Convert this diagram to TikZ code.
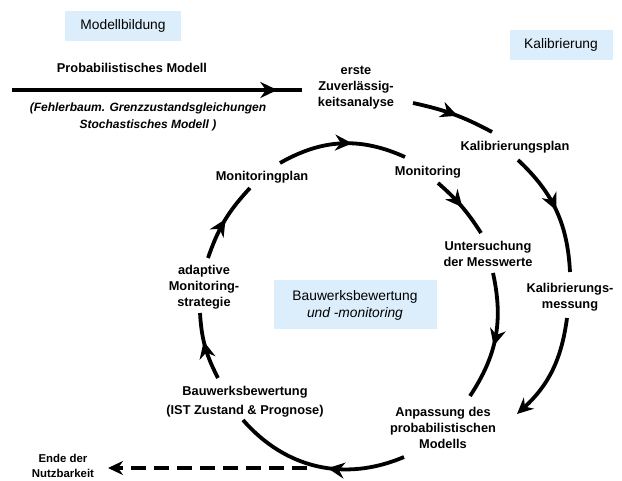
\documentclass[tikz,border=0pt]{standalone}
\usepackage{fontspec}
\setmainfont{Liberation Sans}
\usetikzlibrary{arrows.meta, decorations.markings, positioning}
\definecolor{boxblue}{HTML}{DCEEFB}

\begin{document}
\begin{tikzpicture}[x=1pt, y=1pt,
  every node/.style = {font=\fontsize{12.8}{16}\selectfont\bfseries,
                       align=center, inner sep=1pt},
  areabox/.style    = {fill=boxblue, font=\fontsize{13.8}{17}\selectfont,
                       minimum height=30pt, inner sep=2pt},
  note/.style       = {font=\fontsize{12}{17}\selectfont\bfseries\itshape},
  flow/.style       = {draw=black, line width=3.8pt},
  midtip/.style     = {flow, postaction={decorate},
                       decoration={markings, mark=at position #1 with
                         {\arrow{Stealth[length=17pt, width=16pt]}}}},
  endtip/.style     = {flow, -{Stealth[length=16pt, width=15pt]}},
  exitflow/.style   = {draw=black, line width=3.2pt, dash pattern=on 15pt off 8pt,
                       -{Stealth[length=15pt, width=14pt]}},
]
  \useasboundingbox (0,0) rectangle (622,-481);

  % ------------------------------------------------------------ headings
  \node[areabox, minimum width=116pt] (modbox) at (123,-26) {Modellbildung};
  \node[areabox, minimum width=103pt] (kalbox) at (561,-45) {Kalibrierung};
  \node[areabox, minimum width=163pt, minimum height=49pt] (bwbox) at (355,-305)
        {Bauwerksbewertung\\\textit{und -monitoring}};

  % --------------------------------------------------------- model input
  \node (probmod) at (132,-68) {Probabilistisches Modell};
  \coordinate (modin) at (12,-90);
  \node[note] (fehler) at (148,-116.5)
        {(Fehlerbaum. Grenzzustandsgleichungen\\Stochastisches Modell )};

  % ------------------------------------------------------ calibration loop
  \node (erste)  at (356,-88)  {erste\\Zuverlässig-\\keitsanalyse};
  \node (kplan)  at (515,-147) {Kalibrierungsplan};
  \node (kmess)  at (570,-297) {Kalibrierungs-\\messung};
  \node (anpass) at (443,-428) {Anpassung des\\probabilistischen\\Modells};

  % ------------------------------------------------------- monitoring loop
  \node (mon)    at (428,-172) {Monitoring};
  \node (unters) at (488,-254) {Untersuchung\\der Messwerte};
  \node (mplan)  at (262,-177) {Monitoringplan};
  \node (adapt)  at (204,-287) {adaptive\\Monitoring-\\strategie};
  \node[font=\fontsize{12.8}{19}\selectfont\bfseries] (bewert) at (245,-402)
        {Bauwerksbewertung\\(IST Zustand \& Prognose)};
  \node[font=\fontsize{11.4}{14.5}\selectfont\bfseries] (ende) at (63,-466)
        {Ende der\\Nutzbarkeit};

  % --------------------------------------------------------------- linkage
  \draw[midtip=0.915] (modin) -- ([shift={(-54,-2)}]erste.center);
  \draw[midtip=0.55] ([shift={(57,-15)}]erste.center) to[bend left=8]
        ([shift={(-23,15)}]kplan.center);
  \draw[midtip=0.5] ([shift={(3,-13)}]kplan.center) to[bend left=22]
        ([shift={(0,25)}]kmess.center);
  \draw[endtip] ([shift={(-3,-21)}]kmess.center) to[bend left=20]
        ([shift={(74,14)}]anpass.center);

  \draw[midtip=0.58] ([shift={(18,14)}]mplan.center) to[bend left=27]
        ([shift={(-23,15)}]mon.center);
  \draw[midtip=0.52] ([shift={(10,-11)}]mon.center) to[bend left=8]
        ([shift={(-7,21)}]unters.center);
  \draw[midtip=0.57] ([shift={(5,-19)}]unters.center) to[bend left=23]
        ([shift={(27,32)}]anpass.center);
  \draw[midtip=0.44] ([shift={(-39,-29)}]anpass.center) to[bend left=36]
        ([shift={(-2,-18)}]bewert.center);
  \draw[midtip=0.58] ([shift={(-27,24)}]bewert.center) to[bend left=12]
        ([shift={(-4,-26)}]adapt.center);
  \draw[midtip=0.52] ([shift={(4,29)}]adapt.center) to[bend left=12]
        ([shift={(-12,-11)}]mplan.center);

  % ------------------------------------------------------------------ exit
  \coordinate (exitpt) at (307,-468);
  \draw[exitflow] (exitpt) -- ([shift={(45,-2)}]ende.center);

\end{tikzpicture}
\end{document}
